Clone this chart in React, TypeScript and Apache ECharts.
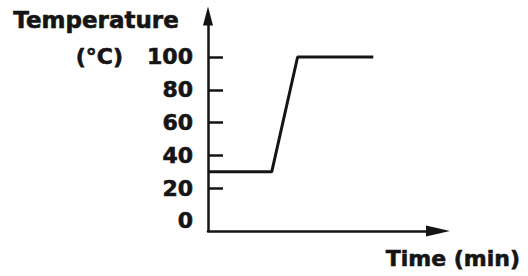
import React, { useEffect, useRef } from "react";
import * as echarts from "echarts";

const timeMin = [0, 6.4, 9.0, 16.6];
const temperatureC = [30, 30, 100, 100];
const yTickLabels = [0, 20, 40, 60, 80, 100];
const yTickMarks = [20, 40, 60, 80, 100];
const yTitle = "Temperature";
const yUnit = "(°C)";
const xTitle = "Time (min)";

const INK = "#151515";
const FONT = "DejaVu Sans";

export default function App() {
  const ref = useRef<HTMLDivElement>(null);
  useEffect(() => {
    if (!ref.current) return;
    const chart = echarts.init(ref.current, null, { renderer: "svg" });
    chart.setOption({
      animation: false,
      backgroundColor: "#ffffff",
      grid: { left: 208, right: 90, top: 16, bottom: 45, containLabel: false },
      xAxis: {
        type: "value",
        min: 0,
        max: 23.1,
        axisLine: {
          show: true,
          onZero: false,
          symbol: ["none", "triangle"],
          symbolSize: [11, 24],
          lineStyle: { color: INK, width: 2.5 },
        },
        axisTick: { show: false },
        axisLabel: { show: false },
        splitLine: { show: false },
      },
      yAxis: {
        type: "value",
        min: -6.1,
        max: 125,
        axisLine: {
          show: true,
          onZero: false,
          symbol: ["none", "triangle"],
          symbolSize: [10, 19],
          lineStyle: { color: INK, width: 2.5 },
        },
        axisTick: {
          show: true,
          inside: true,
          length: 15,
          customValues: yTickMarks,
          lineStyle: { color: INK, width: 2.5 },
        },
        axisLabel: {
          show: true,
          customValues: yTickLabels,
          margin: 15,
          color: INK,
          fontFamily: FONT,
          fontWeight: "bold",
          fontSize: 22,
          textBorderColor: INK,
          textBorderWidth: 0.6,
        },
        splitLine: { show: false },
      },
      graphic: [
        {
          type: "text",
          left: 13,
          top: 8,
          style: {
            text: yTitle,
            fill: INK,
            stroke: INK,
            lineWidth: 0.6,
            font: `bold 23px "${FONT}"`,
          },
        },
        {
          type: "text",
          x: 123,
          y: 56,
          style: {
            text: yUnit,
            fill: INK,
            stroke: INK,
            lineWidth: 0.6,
            font: `bold 22px "${FONT}"`,
            align: "right",
            verticalAlign: "middle",
          },
        },
        {
          type: "text",
          x: 520,
          y: 258,
          style: {
            text: xTitle,
            fill: INK,
            stroke: INK,
            lineWidth: 0.6,
            font: `bold 22px "${FONT}"`,
            align: "right",
            verticalAlign: "middle",
          },
        },
      ],
      series: [
        {
          type: "line",
          data: timeMin.map((t, i) => [t, temperatureC[i]]),
          showSymbol: false,
          symbol: "none",
          lineStyle: { color: INK, width: 3 },
        },
      ],
    });
    return () => chart.dispose();
  }, []);
  return <div ref={ref} style={{ width: 528, height: 276, position: "absolute", left: 0, top: 0 }} />;
}
